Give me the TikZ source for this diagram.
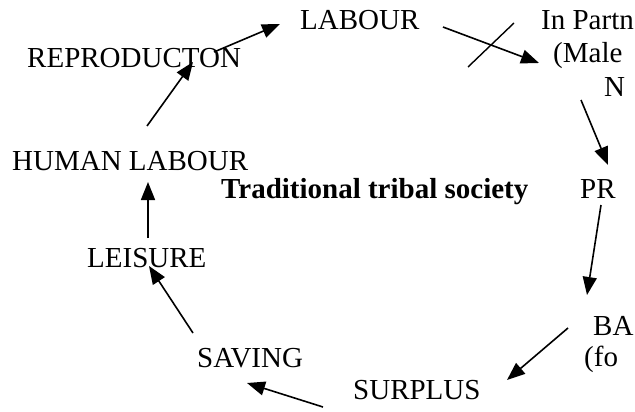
\documentclass[tikz,border=0pt]{standalone}
\usepackage{fontspec}
\setmainfont{Liberation Serif}
\usetikzlibrary{arrows.meta}

\begin{document}
\begin{tikzpicture}[x=1pt,y=-1pt,
  lbl/.style={anchor=base west,inner sep=0pt,font=\fontsize{29}{33}\selectfont},
  ttl/.style={anchor=base west,inner sep=0pt,font=\fontsize{29}{33}\selectfont\bfseries},
  ar/.style={-{Triangle[length=18pt,width=14pt]},line width=1.6pt},
  cut/.style={line width=1.4pt}]
\useasboundingbox (0,0) rectangle (635,412);
% stages round the cycle
\node[lbl] (labour) at (300,30) {LABOUR};
\node[lbl] (partnA) at (541,30) {In Partn};
\node[lbl] (partnB) at (553,63) {(Male};
\node[lbl] (partnC) at (604,96) {N};
\node[lbl] (pr)     at (580,198) {PR};
\node[lbl] (baA)    at (593,335) {BA};
\node[lbl] (baB)    at (584,366) {(fo};
\node[lbl] (surplus) at (353,399) {SURPLUS};
\node[lbl] (saving) at (197,367) {SAVING};
\node[lbl] (leisure) at (87,267) {LEISURE};
\node[lbl] (human)  at (12,170) {HUMAN LABOUR};
\node[lbl] (repro)  at (27,67) {REPRODUCTON};
% title in the middle
\node[ttl] (title) at (221,198) {Traditional tribal society};
% arrow ends
\coordinate (r1) at (214,52);  \coordinate (r2) at (280,24);
\coordinate (l1) at (443,27);  \coordinate (l2) at (539,63);
\coordinate (x1) at (514,23);  \coordinate (x2) at (468,67);
\coordinate (n1) at (581,100); \coordinate (n2) at (608,165);
\coordinate (p1) at (601,205); \coordinate (p2) at (587,295);
\coordinate (b1) at (568,328); \coordinate (b2) at (507,380);
\coordinate (s1) at (323,407); \coordinate (s2) at (247,383);
\coordinate (v1) at (193,333); \coordinate (v2) at (149,266);
\coordinate (e1) at (148,238); \coordinate (e2) at (148,182);
\coordinate (h1) at (147,126); \coordinate (h2) at (193,62);
\draw[ar] (r1)--(r2); \draw[ar] (l1)--(l2);
\draw[cut] (x1)--(x2);
\draw[ar] (n1)--(n2); \draw[ar] (p1)--(p2);
\draw[ar] (b1)--(b2); \draw[ar] (s1)--(s2);
\draw[ar] (v1)--(v2); \draw[ar] (e1)--(e2);
\draw[ar] (h1)--(h2);
\end{tikzpicture}
\end{document}
